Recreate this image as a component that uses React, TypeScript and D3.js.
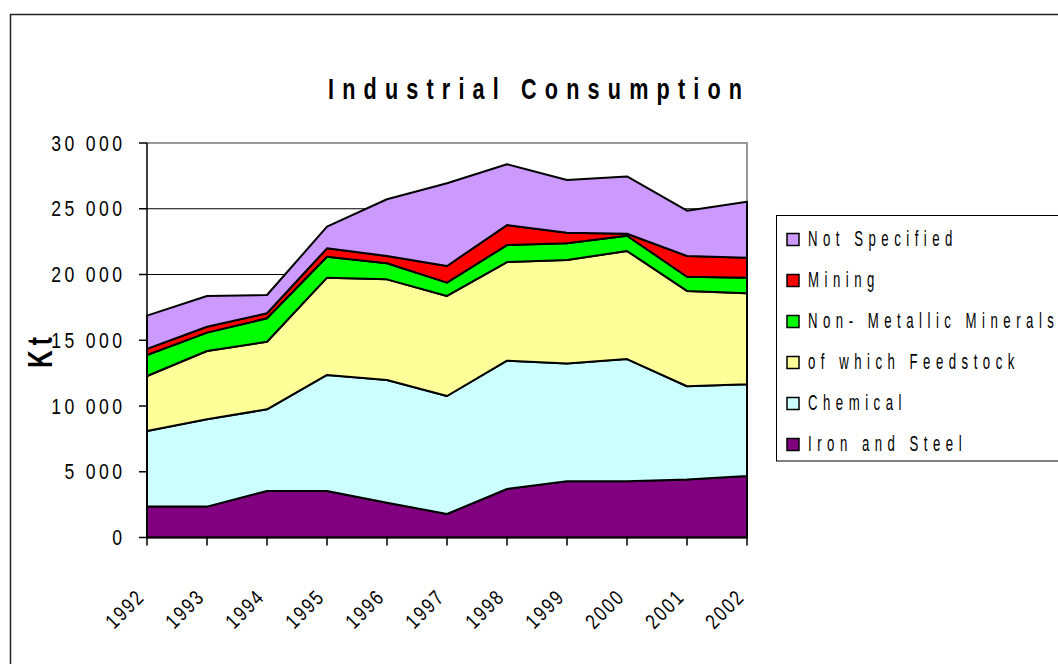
import React from "react";
import * as d3 from "d3";

const years = [1992, 1993, 1994, 1995, 1996, 1997, 1998, 1999, 2000, 2001, 2002];
const ironAndSteel = [2350, 2350, 3540, 3540, 2650, 1790, 3690, 4270, 4270, 4420, 4680];
const chemical = [5750, 6640, 6210, 8820, 9330, 8970, 9760, 8970, 9300, 7080, 6970];
const feedstock = [4180, 5190, 5140, 7400, 7650, 7610, 7500, 7860, 8220, 7250, 6920];
const nonMetallic = [1600, 1400, 1780, 1590, 1220, 1010, 1290, 1270, 1160, 1080, 1190];
const mining = [460, 450, 380, 640, 560, 1270, 1520, 810, 150, 1580, 1520];
const notSpecified = [2530, 2340, 1390, 1650, 4310, 6290, 4620, 4010, 4360, 3440, 4260];
const yTicks = [0, 5000, 10000, 15000, 20000, 25000, 30000];

const seriesNames = ["Iron and Steel", "Chemical", "of which Feedstock", "Non- Metallic Minerals", "Mining", "Not Specified"];
const seriesColors = ["#800080", "#CCFFFF", "#FFFF99", "#00FF00", "#FF0000", "#CC99FF"];
const seriesValues = [ironAndSteel, chemical, feedstock, nonMetallic, mining, notSpecified];

const FONT = "'Liberation Sans', Arial, Helvetica, sans-serif";

type STProps = {
  x: number;
  y: number;
  sx: number;
  size: number;
  ls?: number;
  anchor?: "start" | "middle" | "end";
  weight?: string;
  rotate?: number;
  length?: number;
  children: React.ReactNode;
};

// condensed text: scaled horizontally, with letter spacing given in screen pixels
function SText({ x, y, sx, size, ls = 0, anchor = "start", weight = "normal", rotate = 0, length, children }: STProps) {
  const extra: any = {};
  if (length) {
    extra.textLength = length / sx;
    extra.lengthAdjust = "spacing";
  } else if (ls) {
    extra.letterSpacing = ls / sx;
  }
  return (
    <text
      transform={`translate(${x},${y}) rotate(${rotate}) scale(${sx},1)`}
      fontSize={size}
      fontWeight={weight}
      textAnchor={anchor}
      fill="#000"
      {...extra}
    >
      {children}
    </text>
  );
}

export default function App() {
  const W = 1058, H = 664;
  const left = 147, right = 747, top = 143, bottom = 537.5;
  const x = d3.scaleLinear().domain([1992, 2002]).range([left, right]);
  const y = d3.scaleLinear().domain([0, 30000]).range([bottom, top]);

  const rows = years.map((yr, i) => {
    const r: any = { year: yr };
    seriesNames.forEach((n, k) => (r[n] = seriesValues[k][i]));
    return r;
  });
  const stacked = d3.stack().keys(seriesNames)(rows);
  const area = d3
    .area<any>()
    .x((d) => x(d.data.year))
    .y0((d) => y(d[0]))
    .y1((d) => y(d[1]));

  const fmt = (v: number) => (v === 0 ? "0" : `${Math.floor(v / 1000)} 000`);
  const legendOrder = [...seriesNames.keys()].reverse();
  const tickLs = 3.4;
  const xLs = 2;

  return (
    <svg width={W} height={H} style={{ position: "absolute", left: 0, top: 0, background: "#fff" }} fontFamily={FONT}>
      <rect x={0} y={0} width={W} height={H} fill="#fff" />
      {/* outer chart border */}
      <path d={`M10.5,${H + 2} V14.5 H${W + 2}`} fill="none" stroke="#222" strokeWidth={1.5} />

      {/* title */}
      <SText x={328} y={99} sx={0.72} size={30} weight="bold" length={414}>
        Industrial Consumption
      </SText>

      {/* gridlines */}
      {yTicks.filter((t) => t > 0 && t < 30000).map((t) => (
        <line key={t} x1={left} x2={right} y1={y(t)} y2={y(t)} stroke="#000" strokeWidth={1} />
      ))}
      {/* plot border top/right gray */}
      <path d={`M${left},${y(30000)} H${right} V${bottom}`} fill="none" stroke="#999" strokeWidth={2} />

      {/* areas */}
      {stacked.map((s, k) => (
        <path key={k} d={area(s as any) || ""} fill={seriesColors[k]} stroke="#000" strokeWidth={2} strokeLinejoin="round" />
      ))}

      {/* y axis */}
      <line x1={left} x2={left} y1={top} y2={bottom} stroke="#000" strokeWidth={1.5} />
      {yTicks.map((t) => (
        <g key={t}>
          <line x1={left - 8} x2={left} y1={y(t)} y2={y(t)} stroke="#000" strokeWidth={1.5} />
          <SText x={122 + tickLs} y={y(t) + 7.5} sx={0.8} size={22} ls={tickLs} anchor="end">
            {fmt(t)}
          </SText>
        </g>
      ))}
      {/* x axis */}
      <line x1={left} x2={right} y1={bottom} y2={bottom} stroke="#000" strokeWidth={1.5} />
      {years.map((yr) => (
        <g key={yr}>
          <line x1={x(yr)} x2={x(yr)} y1={bottom} y2={bottom + 8} stroke="#000" strokeWidth={1.5} />
          <SText x={x(yr) - 1} y={598} sx={0.8} size={21} ls={xLs} anchor="end" rotate={-45}>
            {yr}
          </SText>
        </g>
      ))}

      {/* y axis title */}
      <SText x={51.5} y={368} sx={0.7} size={35} weight="bold" ls={5} rotate={-90}>
        Kt
      </SText>

      {/* legend */}
      <rect x={776.5} y={215.5} width={300} height={245.5} fill="#fff" stroke="#000" strokeWidth={1} />
      {legendOrder.map((k, i) => {
        const base = 245.5 + i * 41;
        return (
          <g key={k}>
            <rect x={787} y={base - 12} width={12} height={12} fill={seriesColors[k]} stroke="#000" strokeWidth={1.5} />
            <SText x={808} y={base} sx={0.6} size={22} ls={5.5}>
              {seriesNames[k]}
            </SText>
          </g>
        );
      })}
    </svg>
  );
}
